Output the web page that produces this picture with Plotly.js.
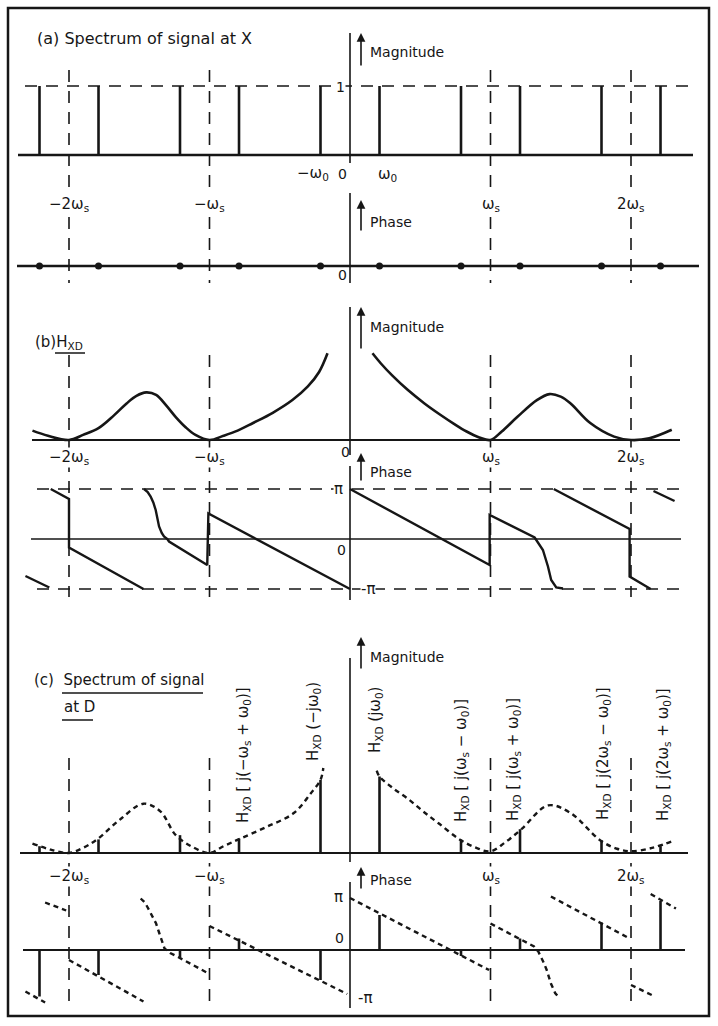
<!DOCTYPE html>
<html><head><meta charset="utf-8">
<script src="https://cdn.plot.ly/plotly-3.0.1.min.js"></script>
<style>html,body{margin:0;padding:0;background:#fff}</style>
</head><body><div id="chart" style="width:718px;height:1026px"></div>
<script>
// ---------------- DATA (frequency in units of ωs) ----------------
const harmonics = [-2, -1, 1, 2];
const harmonicLabels = ['−2ω<sub>s</sub>', '−ω<sub>s</sub>', 'ω<sub>s</sub>', '2ω<sub>s</sub>'];
const lineFreqs = [-2.21, -1.79, -1.21, -0.79, -0.21, 0.21, 0.79, 1.21, 1.79, 2.21];
const inputMag = [1, 1, 1, 1, 1, 1, 1, 1, 1, 1];
const inputPhase = [0, 0, 0, 0, 0, 0, 0, 0, 0, 0];

// H_XD magnitude (panel b)
const hMagX = [-2.26, -2.15, -2.0, -1.9, -1.79, -1.68, -1.59, -1.52, -1.45, -1.38, -1.31, -1.24, -1.17, -1.1, -1.0, -0.9, -0.8, -0.69, -0.55, -0.41, -0.3, -0.22, -0.16,
  null, 0.16, 0.22, 0.3, 0.41, 0.53, 0.64, 0.74, 0.83, 0.92, 1.0, 1.08, 1.19, 1.33, 1.42, 1.5, 1.57, 1.71, 1.88, 2.0, 2.13, 2.29];
const hMagY = [0.11, 0.05, 0.0, 0.06, 0.14, 0.29, 0.43, 0.52, 0.56, 0.53, 0.41, 0.27, 0.15, 0.06, 0.0, 0.05, 0.11, 0.2, 0.32, 0.47, 0.63, 0.8, 1.02,
  null, 1.02, 0.9, 0.76, 0.59, 0.43, 0.30, 0.19, 0.1, 0.03, 0.0, 0.1, 0.27, 0.47, 0.54, 0.51, 0.43, 0.2, 0.04, 0.0, 0.02, 0.12];

// H_XD phase (units of π), null = break
const hPhaseX = [-2.31, -2.14, null,
  -2.13, -2.0, -2.0, -1.47, null,
  -1.466, -1.44, -1.419, -1.40, -1.383, -1.37, -1.359, -1.34, -1.324, -1.30, -1.288, -1.016, -1.008, 0.0, null,
  0.0, 0.994, 0.994, 1.314, 1.373, 1.409, 1.432, 1.468, 1.516, null,
  1.45, 1.99, 1.99, 2.14, null,
  2.16, 2.31];
const hPhaseY = [-0.74, -0.97, null,
  1.0, 0.80, -0.17, -1.0, null,
  1.0, 0.94, 0.85, 0.73, 0.58, 0.42, 0.25, 0.12, 0.05, 0.0, -0.05, -0.52, 0.51, -1.0, null,
  1.0, -0.52, 0.48, 0.03, -0.22, -0.55, -0.82, -0.97, -0.99, null,
  1.0, 0.2, -0.75, -1.0, null,
  0.96, 0.76];

// Output spectrum at D (panel c)
const outMag = [0.08, 0.16, 0.21, 0.17, 0.86, 0.90, 0.16, 0.28, 0.15, 0.08];
const outPhase = [-0.93, -0.5, -0.15, 0.23, -0.6, 0.7, -0.12, 0.23, 0.55, 0.98];
const envMagX = [-2.26, -2.13, -2.0, -1.9, -1.8, -1.64, -1.47, -1.35, -1.24, -1.12, -1.0, -0.9, -0.78, -0.59, -0.4, -0.28, -0.21, -0.19,
  null, 0.19, 0.21, 0.3, 0.41, 0.52, 0.63, 0.78, 0.9, 1.0, 1.1, 1.22, 1.41, 1.57, 1.78, 1.9, 2.0, 2.15, 2.31];
const envMagY = [0.11, 0.04, 0.0, 0.06, 0.16, 0.39, 0.58, 0.49, 0.21, 0.07, 0.0, 0.08, 0.17, 0.31, 0.47, 0.70, 0.86, 1.0,
  null, 0.97, 0.9, 0.77, 0.64, 0.49, 0.35, 0.16, 0.06, 0.02, 0.12, 0.28, 0.56, 0.47, 0.15, 0.05, 0.02, 0.06, 0.15];
const envPhaseX = [-2.31, -2.17, null, -2.17, -2.02, null, -2.0, -1.47, null,
  -1.49, -1.46, -1.44, -1.41, -1.38, -1.36, -1.34, -1.32, -1.28, -1.23, -1.0, null,
  -1.0, -0.02, null, 0.0, 0.99, null,
  1.0, 1.31, 1.34, 1.36, 1.38, 1.40, 1.43, 1.46, 1.48, null,
  1.43, 1.99, null, 2.0, 2.17, null, 2.14, 2.32];
const envPhaseY = [-0.83, -1.05, null, 0.95, 0.79, null, -0.2, -1.03, null,
  1.03, 0.95, 0.85, 0.7, 0.53, 0.36, 0.2, 0.03, -0.06, -0.13, -0.48, null,
  0.48, -0.88, null, 1.04, -0.4, null,
  0.53, 0.07, -0.03, -0.13, -0.26, -0.4, -0.67, -0.86, -0.93, null,
  1.07, 0.23, null, -0.7, -0.93, null, 1.12, 0.83];
const outLabels = ['H<sub>XD</sub> [ j(−ω<sub>s</sub> + ω<sub>0</sub>)]', 'H<sub>XD</sub> (−jω<sub>0</sub>)', 'H<sub>XD</sub> (jω<sub>0</sub>)',
  'H<sub>XD</sub> [ j(ω<sub>s</sub> − ω<sub>0</sub>)]', 'H<sub>XD</sub> [ j(ω<sub>s</sub> + ω<sub>0</sub>)]',
  'H<sub>XD</sub> [ j(2ω<sub>s</sub> − ω<sub>0</sub>)]', 'H<sub>XD</sub> [ j(2ω<sub>s</sub> + ω<sub>0</sub>)]'];

// ---------------- LAYOUT HELPERS ----------------
const W = 718, H = 1026, X0 = 350, WS = 140.5;
const INK = '#161616';
const FONT = 'DejaVu Sans';
const P = py => 1 - py / H;          // pixel row -> paper y
const PX = px => px / W;             // pixel col -> paper x
const XV = px => (px - X0) / WS;     // pixel col -> data x
function yax(pTop, pBot, v0, p0, v1, p1) {
  const s = (v1 - v0) / (p0 - p1);
  return {domain: [P(pBot), P(pTop)], range: [v0 + (p0 - pBot) * s, v0 + (p0 - pTop) * s],
    visible: false, fixedrange: true, anchor: 'x'};
}
function stems(xs, ys) {
  const X = [], Y = [];
  xs.forEach((x, i) => { X.push(x, x, null); Y.push(0, ys[i], null); });
  return {x: X, y: Y};
}

const traces = [];
const a = stems(lineFreqs, inputMag);
traces.push({x: a.x, y: a.y, yaxis: 'y', mode: 'lines', line: {color: INK, width: 2.6}, hoverinfo: 'skip'});
traces.push({x: lineFreqs, y: inputPhase, yaxis: 'y2', mode: 'markers', marker: {color: INK, size: 7}, hoverinfo: 'skip'});
traces.push({x: hMagX, y: hMagY, yaxis: 'y3', mode: 'lines', line: {color: INK, width: 2.6, shape: 'spline', smoothing: 1}, hoverinfo: 'skip'});
traces.push({x: hPhaseX, y: hPhaseY, yaxis: 'y4', mode: 'lines', line: {color: INK, width: 2.4}, hoverinfo: 'skip'});
const c = stems(lineFreqs, outMag);
traces.push({x: c.x, y: c.y, yaxis: 'y5', mode: 'lines', line: {color: INK, width: 2.6}, hoverinfo: 'skip'});
traces.push({x: envMagX, y: envMagY, yaxis: 'y5', mode: 'lines', line: {color: INK, width: 2.4, dash: '5px,4px', shape: 'spline', smoothing: 1}, hoverinfo: 'skip'});
const d = stems(lineFreqs, outPhase);
traces.push({x: d.x, y: d.y, yaxis: 'y6', mode: 'lines', line: {color: INK, width: 2.6}, hoverinfo: 'skip'});
traces.push({x: envPhaseX, y: envPhaseY, yaxis: 'y6', mode: 'lines', line: {color: INK, width: 2.4, dash: '5px,4px'}, hoverinfo: 'skip'});

// ---------------- SHAPES ----------------
const shapes = [];
function hline(yref, yv, px0, px1, w, dash) {
  shapes.push({type: 'line', layer: 'below', xref: 'x', yref: yref, x0: XV(px0), x1: XV(px1), y0: yv, y1: yv, line: {color: INK, width: w, dash: dash || 'solid'}});
}
function vpaper(xv, py0, py1, w, dash) {
  shapes.push({type: 'line', layer: 'below', xref: 'x', yref: 'paper', x0: xv, x1: xv, y0: P(py0), y1: P(py1), line: {color: INK, width: w, dash: dash || 'solid'}});
}
function seg(px0, py0, px1, py1, w) {
  shapes.push({type: 'line', xref: 'paper', yref: 'paper', x0: PX(px0), x1: PX(px1), y0: P(py0), y1: P(py1), line: {color: INK, width: w}});
}
const DASH = '12px,9px';
// panel (a)
hline('y', 0, 18, 693, 2.6);
hline('y', 1, 25, 692, 1.6, DASH);
hline('y2', 0, 17, 699, 2.6);
vpaper(0, 33, 163, 1.6);
vpaper(0, 193, 283, 1.6);
harmonics.forEach(h => vpaper(h, 70, 283, 1.6, DASH));
// panel (b)
hline('y3', 0, 32, 680, 2.0);
hline('y4', 0, 31, 681, 1.6);
hline('y4', 1, 37, 681, 1.6, DASH);
hline('y4', -1, 37, 681, 1.6, DASH);
vpaper(0, 307, 455, 1.6);
vpaper(0, 466, 600, 1.6);
harmonics.forEach(h => vpaper(h, 355, 597, 1.6, DASH));
seg(55, 353, 85, 353, 1.5);
// panel (c)
hline('y5', 0, 20, 688, 2.0);
hline('y6', 0, 23, 685, 1.8);
vpaper(0, 658, 862, 1.6);
vpaper(0, 882, 1008, 1.6);
harmonics.forEach(h => vpaper(h, 758, 1008, 1.6, DASH));
seg(62, 693, 203, 693, 1.5);
seg(62, 720, 93, 720, 1.5);
// border
shapes.push({type: 'rect', xref: 'paper', yref: 'paper', x0: PX(8), x1: PX(709), y0: P(1016), y1: P(8), line: {color: INK, width: 2.5}});

// ---------------- ANNOTATIONS ----------------
const ann = [];
function txt(s, px, py, opt) {
  ann.push(Object.assign({text: s, xref: 'paper', yref: 'paper', x: PX(px), y: P(py), showarrow: false,
    xanchor: 'center', yanchor: 'middle', font: {family: FONT, size: 14, color: INK}}, opt || {}));
}
function arrow(px, pyTip, pyTail) {
  ann.push({text: '', xref: 'paper', yref: 'paper', x: PX(px), y: P(pyTip), ax: 0, ay: pyTail - pyTip,
    showarrow: true, arrowhead: 2, arrowsize: 1.1, arrowwidth: 1.6, arrowcolor: INK});
}
const F15 = {family: FONT, size: 15, color: INK};
const F16 = {family: FONT, size: 16, color: INK};
// titles
txt('(a) Spectrum of signal at X', 35, 39, {xanchor: 'left', font: F16});
txt('(b)H<sub>XD</sub>', 33, 343, {xanchor: 'left', font: F15});
txt('(c)  Spectrum of signal', 32, 680, {xanchor: 'left', font: F15});
txt('at D', 62, 707, {xanchor: 'left', font: F15});
// axis captions with arrows
[[52, 67, 33], [222, 232, 200], [327, 350, 307], [472, 482, 453], [657, 670, 637], [880, 890, 867]].forEach((r, i) => {
  arrow(361, r[2], r[1]);
  txt(i % 2 === 0 ? 'Magnitude' : 'Phase', 368, r[0], {xanchor: 'left'});
});
// harmonic labels
const labelRows = [204, 457, 876];
labelRows.forEach(py => harmonics.forEach((h, i) => {
  ann.push({text: harmonicLabels[i], xref: 'x', yref: 'paper', x: h, y: P(py), showarrow: false,
    xanchor: 'center', yanchor: 'middle', bgcolor: '#ffffff', borderpad: 0, font: F15});
}));
// value labels
txt('1', 340, 87, {bgcolor: '#ffffff', borderpad: 0});
txt('−ω<sub>0</sub>', 313, 174, {font: F15});
txt('0', 342, 174);
txt('ω<sub>0</sub>', 387, 175, {font: F15});
txt('0', 342, 275);
txt('0', 345, 452);
txt('π', 338, 489, {font: F15, bgcolor: '#ffffff', borderpad: 0});
txt('0', 341, 550);
txt('-π', 368, 589, {font: F15, bgcolor: '#ffffff', borderpad: 0});
txt('π', 338, 897, {font: F15});
txt('0', 339, 938);
txt('-π', 365, 998, {font: F15});
// rotated labels in (c)
const outLabelPos = [[243, 755], [313, 722], [375, 720], [461, 761], [513, 760], [603, 754], [663, 755]];
outLabels.forEach((s, i) => txt(s, outLabelPos[i][0], outLabelPos[i][1], {textangle: -90, font: F15}));

const layout = {
  width: W, height: H, margin: {l: 0, r: 0, t: 0, b: 0}, showlegend: false,
  paper_bgcolor: '#ffffff', plot_bgcolor: 'rgba(0,0,0,0)',
  xaxis: {range: [XV(0), XV(W)], domain: [0, 1], visible: false, fixedrange: true},
  yaxis: yax(20, 178, 0, 155, 1, 86),
  yaxis2: yax(178, 300, 0, 266, 1, 236),
  yaxis3: yax(300, 462, 0, 440, 1, 355),
  yaxis4: yax(462, 612, 0, 539, 1, 489),
  yaxis5: yax(612, 868, 0, 853, 1, 768),
  yaxis6: yax(868, 1020, 0, 950, 1, 900),
  shapes: shapes, annotations: ann
};
Plotly.newPlot('chart', traces, layout, {displayModeBar: false, staticPlot: true});
</script></body></html>
